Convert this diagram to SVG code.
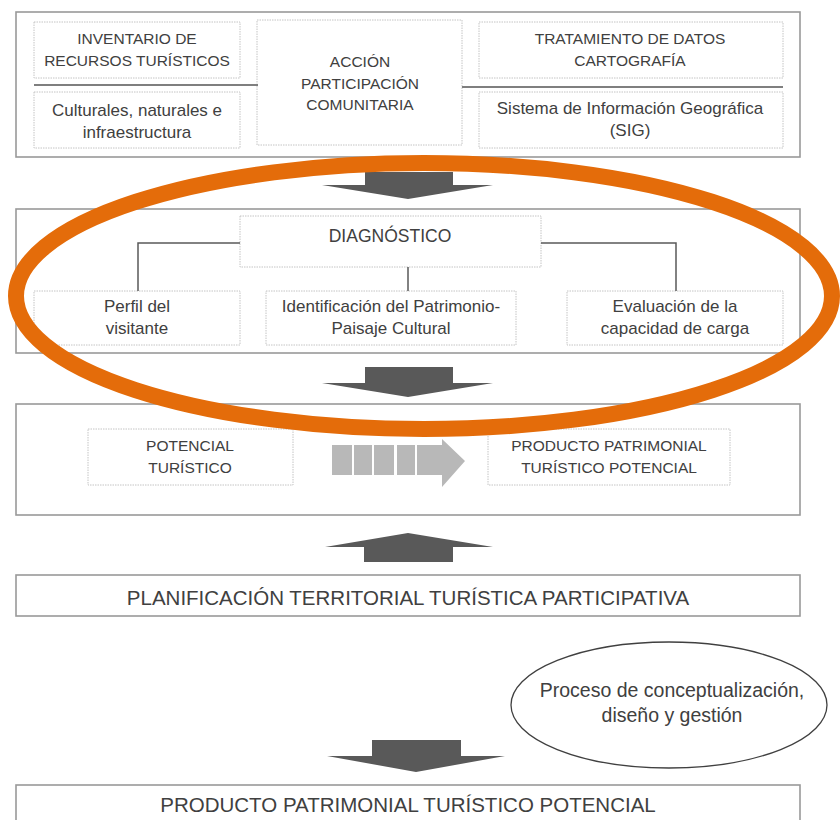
<svg xmlns="http://www.w3.org/2000/svg" width="840" height="820" viewBox="0 0 840 820">
<style>
.panel{fill:#fff;stroke:#999;stroke-width:1.6}
.box{fill:#fff;stroke:#c4c4c4;stroke-width:1;stroke-dasharray:1.5 1}
.sep{stroke:#7f7f7f;stroke-width:2}
.conn{fill:none;stroke:#595959;stroke-width:1.5}
.arr{fill:#595959}
.seg{fill:#b8b8b8}
.t{font-family:"Liberation Sans",Arial,sans-serif;fill:#404040;text-anchor:middle;dominant-baseline:central}
.c{font-size:15.5px}
.m{font-size:17px}
.d{font-size:17.5px}
.big{font-size:20.5px}
.e{font-size:19.5px}
.hl{fill:none;stroke:#E46C0A;stroke-width:16}
</style>

<g id="panel1">
<rect class="panel" x="16" y="12" width="784" height="145"/>
</g>
<g id="inventario">
<rect class="box" x="34" y="22" width="206" height="56"/>
<text class="t c" x="137" y="38">INVENTARIO DE</text>
<text class="t c" x="137" y="60">RECURSOS TURÍSTICOS</text>
</g>
<g id="culturales">
<rect class="box" x="34" y="92" width="206" height="56"/>
<text class="t m" x="137" y="110">Culturales, naturales e</text>
<text class="t m" x="137" y="132">infraestructura</text>
</g>
<g id="accion">
<rect class="box" x="257" y="20" width="205" height="125"/>
<text class="t c" x="360" y="61">ACCIÓN</text>
<text class="t c" x="360" y="83">PARTICIPACIÓN</text>
<text class="t c" x="360" y="104">COMUNITARIA</text>
</g>
<g id="tratamiento">
<rect class="box" x="479" y="22" width="304" height="56"/>
<text class="t c" x="630" y="38">TRATAMIENTO DE DATOS</text>
<text class="t c" x="630" y="60">CARTOGRAFÍA</text>
</g>
<g id="sig">
<rect class="box" x="479" y="92" width="304" height="56"/>
<text class="t m" x="630" y="108">Sistema de Información Geográfica</text>
<text class="t m" x="630" y="130">(SIG)</text>
</g>

<g id="panel2">
<rect class="panel" x="16" y="209" width="784" height="144"/>
</g>
<g id="diagnostico">
<rect class="box" x="240" y="216" width="301" height="51"/>
<text class="t d" x="390" y="236">DIAGNÓSTICO</text>
</g>
<g id="perfil">
<rect class="box" x="34" y="291" width="206" height="54"/>
<text class="t m" x="137" y="306">Perfil del</text>
<text class="t m" x="137" y="328">visitante</text>
</g>
<g id="identificacion">
<rect class="box" x="266" y="291" width="250" height="54"/>
<text class="t m" x="391" y="306">Identificación del Patrimonio-</text>
<text class="t m" x="391" y="328">Paisaje Cultural</text>
</g>
<g id="evaluacion">
<rect class="box" x="567" y="291" width="216" height="54"/>
<text class="t m" x="675" y="306">Evaluación de la</text>
<text class="t m" x="675" y="328">capacidad de carga</text>
</g>

<g id="panel3">
<rect class="panel" x="16" y="404" width="784" height="111"/>
</g>
<g id="potencial">
<rect class="box" x="88" y="429" width="205" height="56"/>
<text class="t c" x="190" y="445">POTENCIAL</text>
<text class="t c" x="190" y="467">TURÍSTICO</text>
</g>
<g id="producto1">
<rect class="box" x="488" y="429" width="242" height="56"/>
<text class="t c" x="609" y="445">PRODUCTO PATRIMONIAL</text>
<text class="t c" x="609" y="467">TURÍSTICO POTENCIAL</text>
</g>

<g id="planificacion">
<rect class="panel" x="16" y="575" width="784" height="41"/>
<text class="t big" x="408" y="597">PLANIFICACIÓN TERRITORIAL TURÍSTICA PARTICIPATIVA</text>
</g>

<g id="proceso">
<ellipse cx="669" cy="705" rx="158" ry="63" fill="#fff" stroke="#404040" stroke-width="1.3"/>
<text class="t e" x="672" y="690">Proceso de conceptualización,</text>
<text class="t e" x="672" y="715">diseño y gestión</text>
</g>

<g id="producto2">
<rect class="panel" x="16" y="785" width="784" height="45"/>
<text class="t big" x="408" y="804">PRODUCTO PATRIMONIAL TURÍSTICO POTENCIAL</text>
</g>

<g id="connectors">
<line class="sep" x1="34" y1="85" x2="258" y2="85"/>
<line class="sep" x1="462" y1="87" x2="783" y2="87"/>
<path class="conn" d="M240 243 H138 V291 M541 243 H676 V291 M408 267 V291"/>
<polygon class="arr" points="365,172 453,172 453,185 493,185 408,199 322,185 365,185"/>
<polygon class="arr" points="365,367 453,367 453,383 493,383 408,397 322,383 365,383"/>
<polygon class="seg" points="332,445 352,445 352,475 332,475"/>
<polygon class="seg" points="354,445 372,445 372,475 354,475"/>
<polygon class="seg" points="374,445 394,445 394,475 374,475"/>
<polygon class="seg" points="397,445 415,445 415,475 397,475"/>
<polygon class="seg" points="417,445 442,445 442,439 465,461 442,487 442,475 417,475"/>
<polygon class="arr" points="364,562 453,562 453,547 493,547 408,533 325,547 364,547"/>
<polygon class="arr" points="372,740 461,740 461,756 505,756 416,772 327,756 372,756"/>
</g>

<g id="highlight">
<ellipse class="hl" cx="424" cy="296" rx="408" ry="133"/>
</g>
</svg>
